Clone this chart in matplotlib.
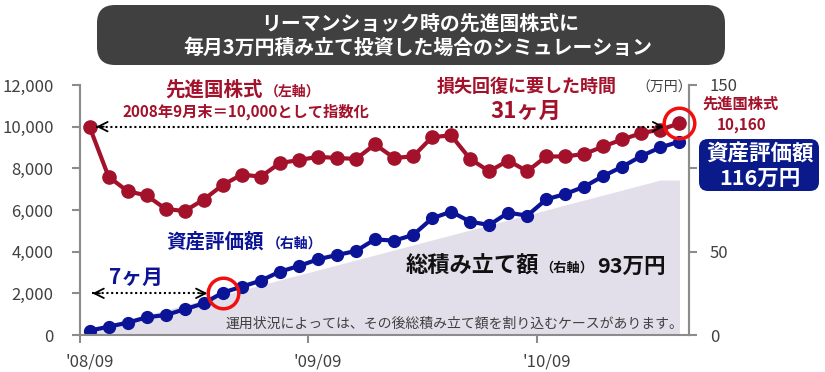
import matplotlib
matplotlib.use("Agg")
import matplotlib.pyplot as plt
from matplotlib.patches import FancyBboxPatch
from matplotlib.ticker import FixedLocator, FuncFormatter
import numpy as np

plt.rcParams['font.family'] = ['Noto Sans CJK JP', 'DejaVu Sans']

# ---- data ----
months = ["08/09","08/10","08/11","08/12","09/01","09/02","09/03","09/04","09/05","09/06",
          "09/07","09/08","09/09","09/10","09/11","09/12","10/01","10/02","10/03","10/04",
          "10/05","10/06","10/07","10/08","10/09","10/10","10/11","10/12","11/01","11/02",
          "11/03","11/04"]
stock_index = [10000, 7600, 6900, 6700, 6050, 5950, 6500, 7200, 7700, 7600,
               8250, 8400, 8550, 8500, 8450, 9150, 8500, 8570, 9500, 9580,
               8450, 7860, 8370, 7860, 8570, 8570, 8690, 9050, 9390, 9690,
               9860, 10160]
asset_value = [2.6, 5.0, 7.4, 10.6, 12.0, 15.4, 19.0, 25.4, 29.0, 32.6,
               38.0, 41.4, 45.4, 48.0, 50.4, 57.4, 56.6, 60.0, 70.0, 74.0,
               68.0, 66.0, 73.4, 71.6, 81.4, 84.6, 89.0, 95.4, 101.0, 107.4,
               112.6, 116.0]
contrib = [3, 6, 9, 12, 15, 18, 21, 24, 27, 30,
           33, 36, 39, 42, 45, 48, 51, 54, 57, 60,
           63, 66, 69, 72, 75, 78, 81, 84, 87, 90,
           93, 93]
xlabels = ["'08/09", "'09/09", "'10/09"]
left_ticks = [0, 2000, 4000, 6000, 8000, 10000, 12000]
right_ticks = [0, 50, 100, 150]

RED = '#A3112A'
BLUE = '#0B1496'
NAVY = '#0A1A8A'
AREA = '#E3DFEA'
GRAY = '#8C8C8C'
TXT = '#404040'

W, H = 825, 372
fig = plt.figure(figsize=(W/100, H/100), dpi=100)
fig.patch.set_facecolor('white')

ax = fig.add_axes([80/W, 1-335/H, 609/W, 250/H])
ax2 = ax.twinx()
x = np.arange(len(months))

# area + blue on right axis
ax2.fill_between(x, 0, contrib, color=AREA, lw=0, zorder=1)
ax2.plot(x, asset_value, color=BLUE, lw=3, marker='o', ms=8.5, zorder=3)
ax2.set_ylim(0, 150)
ax2.yaxis.set_major_locator(FixedLocator(right_ticks))
ax2.yaxis.set_major_formatter(FuncFormatter(lambda v, p: '' if v == 100 else f'{int(v)}'))

ax.plot(x, stock_index, color=RED, lw=3, marker='o', ms=9.5, zorder=4)
ax.set_ylim(0, 12000)
ax.set_xlim(-0.5, len(months) - 0.5)
ax.yaxis.set_major_locator(FixedLocator(left_ticks))
ax.yaxis.set_major_formatter(FuncFormatter(lambda v, p: f'{int(v):,}'))

ax.set_zorder(ax2.get_zorder() + 1)
ax.patch.set_visible(False)

# x ticks: boundaries as major (ticks), centers as minor (labels)
ax.xaxis.set_major_locator(FixedLocator([-0.5, 11.5, 23.5]))
ax.xaxis.set_major_formatter(FuncFormatter(lambda v, p: ''))
ax.xaxis.set_minor_locator(FixedLocator([0, 12, 24]))
ax.set_xticklabels(xlabels, minor=True)
ax.tick_params(axis='x', which='major', length=6, width=1.5, color=GRAY, direction='out')
ax.tick_params(axis='x', which='minor', length=0, pad=13, labelsize=12, labelcolor=TXT)
ax.tick_params(axis='y', length=6, width=1.5, color=GRAY, pad=13, labelsize=12, labelcolor=TXT)
ax2.tick_params(axis='y', length=6, width=1.5, color=GRAY, pad=9, labelsize=12, labelcolor=TXT)

for a in (ax, ax2):
    a.spines['top'].set_visible(False)
    for s in ('left', 'right', 'bottom'):
        a.spines[s].set_color(GRAY)
        a.spines[s].set_linewidth(1.5)
ax2.spines['bottom'].set_visible(False)

# red circles
ax.plot([7], [asset_value[7] * 12000 / 150], marker='o', ms=22, mfc='none',
        mec='#F01010', mew=2.5, zorder=6, clip_on=False)
ax.plot([31], [stock_index[31]], marker='o', ms=22, mfc='none',
        mec='#F01010', mew=2.5, zorder=6, clip_on=False)

# dotted arrows
def dotted_arrow(a, x0, x1, y, left=True, right=True):
    a.plot([x0, x1], [y, y], color='black', lw=1.5, ls=(0, (1, 1.3)), zorder=5, clip_on=False)
    d = 0.4
    if left:
        a.annotate('', xy=(x0, y), xytext=(x0 + d, y),
                   arrowprops=dict(arrowstyle='->', lw=1.3, color='black', mutation_scale=17,
                                   shrinkA=0, shrinkB=0), zorder=5)
    if right:
        a.annotate('', xy=(x1, y), xytext=(x1 - d, y),
                   arrowprops=dict(arrowstyle='->', lw=1.3, color='black', mutation_scale=17,
                                   shrinkA=0, shrinkB=0), zorder=5)

dotted_arrow(ax, 0.35, 30.2, 10000)
dotted_arrow(ax, 0.15, 6.2, 2000)

# title box
fig.patches.append(FancyBboxPatch((0.97, (H - 65) / 100), 6.28, 0.60,
                                  boxstyle='round,pad=0,rounding_size=0.18',
                                  transform=fig.dpi_scale_trans, fc='#404040', ec='none'))
fig.text(420/W, 1-23/H, 'リーマンショック時の先進国株式に', color='white', fontsize=14.3,
         fontweight='bold', ha='center', va='center')
fig.text(418/W, 1-47/H, '毎月3万円積み立て投資した場合のシミュレーション', color='white', fontsize=14.3,
         fontweight='bold', ha='center', va='center')

def ft(px, py, s, **kw):
    fig.text(px/W, 1-py/H, s, **kw)

ft(165, 90, '先進国株式', color=RED, fontsize=14, fontweight='bold', ha='left', va='center')
ft(265, 92, '（左軸）', color=RED, fontsize=10, fontweight='bold', ha='left', va='center')
ft(246, 112, '2008年9月末＝10,000として指数化', color=RED, fontsize=11, fontweight='bold',
   ha='center', va='center')
ft(527, 86, '損失回復に要した時間', color=RED, fontsize=13, fontweight='bold', ha='center', va='center')
ft(526, 111, '31ヶ月', color=RED, fontsize=16, fontweight='bold', ha='center', va='center')
ft(664, 88, '（万円）', color=TXT, fontsize=10, ha='center', va='center')
ft(741, 104, '先進国株式', color=RED, fontsize=11, fontweight='bold', ha='center', va='center')
ft(742, 125, '10,160', color=RED, fontsize=11, fontweight='bold', ha='center', va='center')

fig.patches.append(FancyBboxPatch((6.99, (H - 191) / 100), 1.20, 0.52,
                                  boxstyle='round,pad=0,rounding_size=0.09',
                                  transform=fig.dpi_scale_trans, fc=NAVY, ec='none'))
ft(760, 154, '資産評価額', color='white', fontsize=15.5, fontweight='bold', ha='center', va='center')
ft(760, 178, '116万円', color='white', fontsize=15.5, fontweight='bold', ha='center', va='center')

ft(166, 242, '資産評価額', color=BLUE, fontsize=14, fontweight='bold', ha='left', va='center')
ft(267, 244, '（右軸）', color=BLUE, fontsize=10, fontweight='bold', ha='left', va='center')
ft(136, 277, '7ヶ月', color=BLUE, fontsize=15, fontweight='bold', ha='center', va='center')

ft(406, 266, '総積み立て額', color='#111111', fontsize=16, fontweight='bold', ha='left', va='center')
ft(540, 268, '（右軸）', color='#111111', fontsize=9.5, fontweight='bold', ha='left', va='center')
ft(597, 266, '93万円', color='#111111', fontsize=15.5, fontweight='bold', ha='left', va='center')
ft(683, 324, '運用状況によっては、その後総積み立て額を割り込むケースがあります。', color=TXT,
   fontsize=10, ha='right', va='center')

fig.savefig('out.png', dpi=100)
